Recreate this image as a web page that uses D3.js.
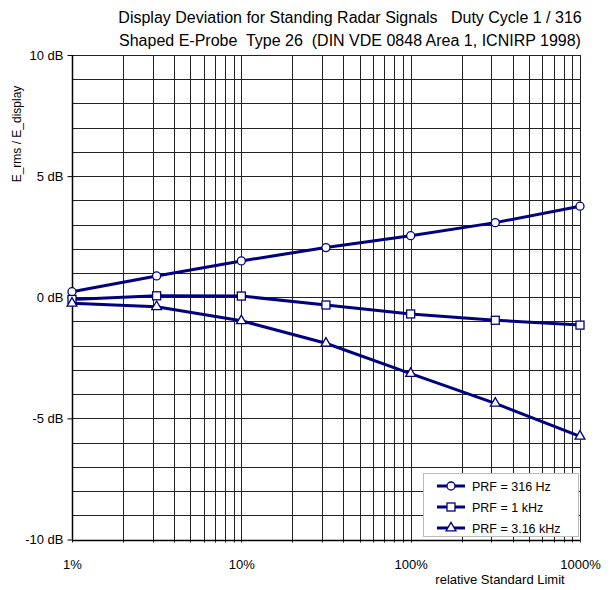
<!DOCTYPE html>
<html><head><meta charset="utf-8">
<script src="https://cdn.jsdelivr.net/npm/d3@7"></script>
<style>body{margin:0;background:#fff}svg{display:block;font-family:"Liberation Sans",Arial,sans-serif}text{white-space:pre}</style>
</head><body><svg id="c" width="612" height="590"></svg>
<script>
const xValues = [1, 3.16, 10, 31.6, 100, 316, 1000];
const prf316 = [0.23, 0.88, 1.5, 2.05, 2.54, 3.08, 3.76];
const prf1k = [-0.09, 0.06, 0.05, -0.32, -0.69, -0.95, -1.15];
const prf316k = [-0.25, -0.39, -0.97, -1.9, -3.15, -4.38, -5.74];
const seriesNames = ["PRF = 316 Hz", "PRF = 1 kHz", "PRF = 3.16 kHz"];
const seriesMarkers = ["circle", "square", "triangle"];
const xTickLabels = ["1%", "10%", "100%", "1000%"];
const yTickValues = [-10, -5, 0, 5, 10];
const titleLines = ["Display Deviation for Standing Radar Signals   Duty Cycle 1 / 316",
                    "Shaped E-Probe  Type 26  (DIN VDE 0848 Area 1, ICNIRP 1998)"];

const svg = d3.select("#c");
const L = 72, R = 580, T = 55, B = 539.5;
const x = d3.scaleLog().domain([1, 1000]).range([L, R]);
const y = d3.scaleLinear().domain([-10, 10]).range([B, T]);
const navy = "#000080";
const FONT = "Liberation Sans, Arial, sans-serif";

// grid
const g = svg.append("g");
const minor = [];
[1, 10, 100].forEach(d => { for (let k = 1; k <= 10; k++) minor.push(d * k); });
const xs = Array.from(new Set(minor));
g.selectAll("line.v").data(xs).join("line")
  .attr("x1", d => Math.round(x(d)) + 0.5).attr("x2", d => Math.round(x(d)) + 0.5)
  .attr("y1", T).attr("y2", B + 3)
  .attr("stroke", "#222").attr("stroke-width", 1);
g.selectAll("line.h").data(d3.range(-10, 11)).join("line")
  .attr("x1", L).attr("x2", R)
  .attr("y1", d => Math.round(y(d)) + 0.5).attr("y2", d => Math.round(y(d)) + 0.5)
  .attr("stroke", "#222").attr("stroke-width", 1);
g.append("line").attr("x1", L + 0.5).attr("x2", L + 0.5).attr("y1", T).attr("y2", B).attr("stroke", "#000").attr("stroke-width", 1.5);
g.append("line").attr("x1", L).attr("x2", R).attr("y1", Math.round(B) + 0.5).attr("y2", Math.round(B) + 0.5).attr("stroke", "#000").attr("stroke-width", 1.5);

// y ticks
const yAxis = d3.axisLeft(y).tickValues(yTickValues).tickSize(5).tickFormat(d => d + " dB");
const ya = svg.append("g").attr("transform", `translate(${L + 0.5},0)`).call(yAxis);
ya.attr("font-size", 13).attr("font-family", FONT);
ya.select(".domain").remove();
ya.selectAll("text").attr("fill", "#000").attr("dx", -1);
ya.selectAll("line").attr("stroke", "#000");

// x labels
const xAxis = d3.axisBottom(x).tickValues([1, 10, 100, 1000]).tickSize(0).tickFormat((d, i) => xTickLabels[i]);
const xa = svg.append("g").attr("transform", `translate(0,${B + 17})`).call(xAxis);
xa.attr("font-size", 13).attr("font-family", FONT);
xa.select(".domain").remove();
xa.selectAll("text").attr("fill", "#000");

// titles
svg.selectAll("text.title").data(titleLines).join("text")
  .attr("x", 350).attr("y", (d, i) => 23 + i * 23)
  .attr("text-anchor", "middle").attr("font-size", 16).text(d => d);

svg.append("text").attr("transform", "translate(21,134) rotate(-90)")
  .attr("text-anchor", "middle").attr("font-size", 12).text("E_rms / E_display");
svg.append("text").attr("x", 500).attr("y", 584).attr("text-anchor", "middle")
  .attr("font-size", 13).text("relative Standard Limit");

// series
const allSeries = [prf316, prf1k, prf316k];
const line = d3.line().x(d => x(d[0])).y(d => y(d[1]));
function marker(sel, type) {
  if (type === "circle") sel.append("circle").attr("r", 4);
  else if (type === "square") sel.append("rect").attr("x", -4).attr("y", -4).attr("width", 8).attr("height", 8);
  else sel.append("path").attr("d", d3.symbol().type(d3.symbolTriangle).size(42)());
  sel.selectAll("*").attr("fill", "#fff").attr("stroke", navy).attr("stroke-width", 1.3);
}
allSeries.forEach((vals, si) => {
  const pts = xValues.map((v, i) => [v, vals[i]]);
  svg.append("path").attr("d", line(pts)).attr("fill", "none").attr("stroke", navy).attr("stroke-width", 3);
  pts.forEach(p => {
    const m = svg.append("g").attr("transform", `translate(${x(p[0])},${y(p[1])})`);
    marker(m, seriesMarkers[si]);
  });
});

// legend
const lg = svg.append("g");
lg.append("rect").attr("x", 423.5).attr("y", 473.5).attr("width", 155).attr("height", 63)
  .attr("fill", "#fff").attr("stroke", "#bbb").attr("stroke-width", 1);
seriesNames.forEach((n, i) => {
  const yy = 486 + i * 21;
  lg.append("line").attr("x1", 437).attr("x2", 465).attr("y1", yy).attr("y2", yy).attr("stroke", navy).attr("stroke-width", 3);
  const m = lg.append("g").attr("transform", `translate(451,${yy})`);
  marker(m, seriesMarkers[i]);
  lg.append("text").attr("x", 472).attr("y", yy + 4.5).attr("font-size", 12.5).text(n);
});
</script></body></html>
